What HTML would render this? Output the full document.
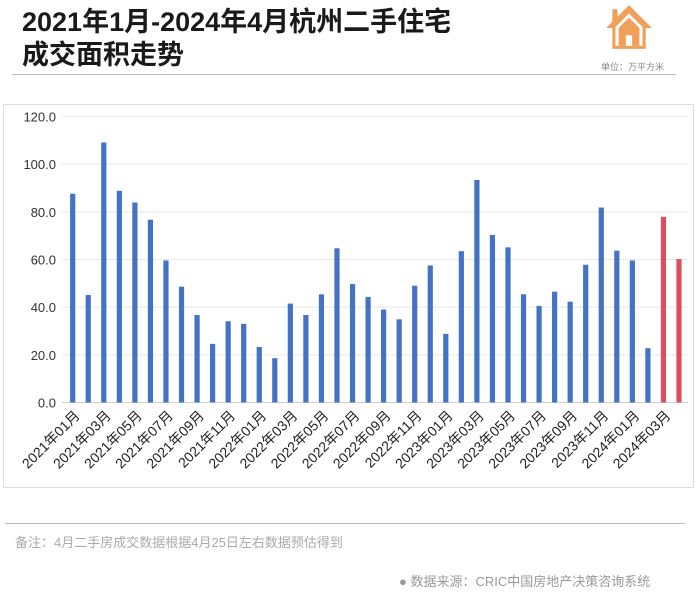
<!DOCTYPE html>
<html><head><meta charset="utf-8">
<style>
body{margin:0;width:698px;height:606px;background:#fff;font-family:"Liberation Sans","Noto Sans CJK SC",sans-serif;position:relative;overflow:hidden}
.t{position:absolute;left:22px;font-weight:bold;font-size:27px;color:#1a1a1a;line-height:32px}
</style></head><body>
<div class="t" style="top:6px">2021年1月-2024年4月杭州二手住宅</div>
<div class="t" style="top:39px">成交面积走势</div>
<svg style="position:absolute;left:604px;top:3px" width="50" height="48" viewBox="0 0 48 46">
<path d="M24 2 L46 24 L40 24 L40 44 L8 44 L8 24 L2 24 L8 18 L8 6 L13 6 L13 13 Z" fill="#f0a05a"/>
<path d="M24 10 L37 23 L37 41 L11 41 L11 23 Z" fill="#fff"/>
<path d="M24 14 L34 24 L34 41 L14 41 L14 24 Z" fill="#f0a05a"/>
<rect x="21" y="31" width="6" height="10" fill="#fff"/>
</svg>
<div style="position:absolute;left:601px;top:60px;font-size:9px;color:#888">单位：万平方米</div>
<div style="position:absolute;left:12px;top:74px;width:664px;height:1px;background:#bbb"></div>
<svg id="chart" style="position:absolute;left:0;top:0" width="698" height="606"></svg>
<div style="position:absolute;left:5px;top:523px;width:680px;height:1px;background:#bbb"></div>
<div style="position:absolute;left:15px;top:532px;font-size:13px;color:#aaa">备注：4月二手房成交数据根据4月25日左右数据预估得到</div>
<div style="position:absolute;left:399px;top:571px;font-size:13px;color:#999"><span style="color:#999">●</span> 数据来源：CRIC中国房地产决策咨询系统</div>
<script>
const months=[];
for(let y=2021;y<=2024;y++)for(let m=1;m<=12;m++){if(y===2024&&m>4)break;months.push(y+"年"+String(m).padStart(2,"0")+"月");}
const values=[87.6,45.1,109.1,88.8,83.9,76.7,59.6,48.6,36.7,24.6,34.1,33.0,23.3,18.6,41.5,36.7,45.4,64.7,49.7,44.3,39.0,34.9,49.0,57.5,28.8,63.5,93.4,70.3,65.1,45.4,40.5,46.5,42.3,57.8,81.8,63.7,59.6,22.8,77.9,60.2];
const estimated=[false,false,false,false,false,false,false,false,false,false,false,false,false,false,false,false,false,false,false,false,false,false,false,false,false,false,false,false,false,false,false,false,false,false,false,false,false,false,true,true];
const yTicks=[0,20,40,60,80,100,120];
const NS="http://www.w3.org/2000/svg",svg=document.getElementById("chart");
const x0=62,x1=688,y0=402.5,yTop=116.5,yMax=120;
const ys=v=>y0-(v/yMax)*(y0-yTop);
const first=72.7,last=679;
const xs=i=>first+(last-first)*i/(months.length-1);
function mk(t,a){const e=document.createElementNS(NS,t);for(const k in a)e.setAttribute(k,a[k]);svg.appendChild(e);return e;}
const box=mk("rect",{x:3.5,y:104.5,width:690,height:383,fill:"none",stroke:"#ddd"});


yTicks.forEach(t=>{
const g=mk("line",{x1:x0,x2:x1,y1:ys(t),y2:ys(t),stroke:t===0?"#d0d0d0":"#e8e8e8"});


const l=mk("text",{x:56,y:ys(t)+5,"text-anchor":"end","font-size":"13",fill:"#333"});
l.textContent=t.toFixed(1);


});
values.forEach((v,i)=>{
const r=mk("rect",{x:xs(i)-2.6,y:ys(v),width:5.2,height:y0-ys(v),fill:estimated[i]?"#d9505f":"#4472c4"});


if(i%2===0){
const tx=mk("text",{transform:`translate(${xs(i)+8},${y0+14}) rotate(-45)`,"text-anchor":"end","font-size":"14",fill:"#222"});
tx.textContent=months[i];


}
});
</script>
</body></html>
